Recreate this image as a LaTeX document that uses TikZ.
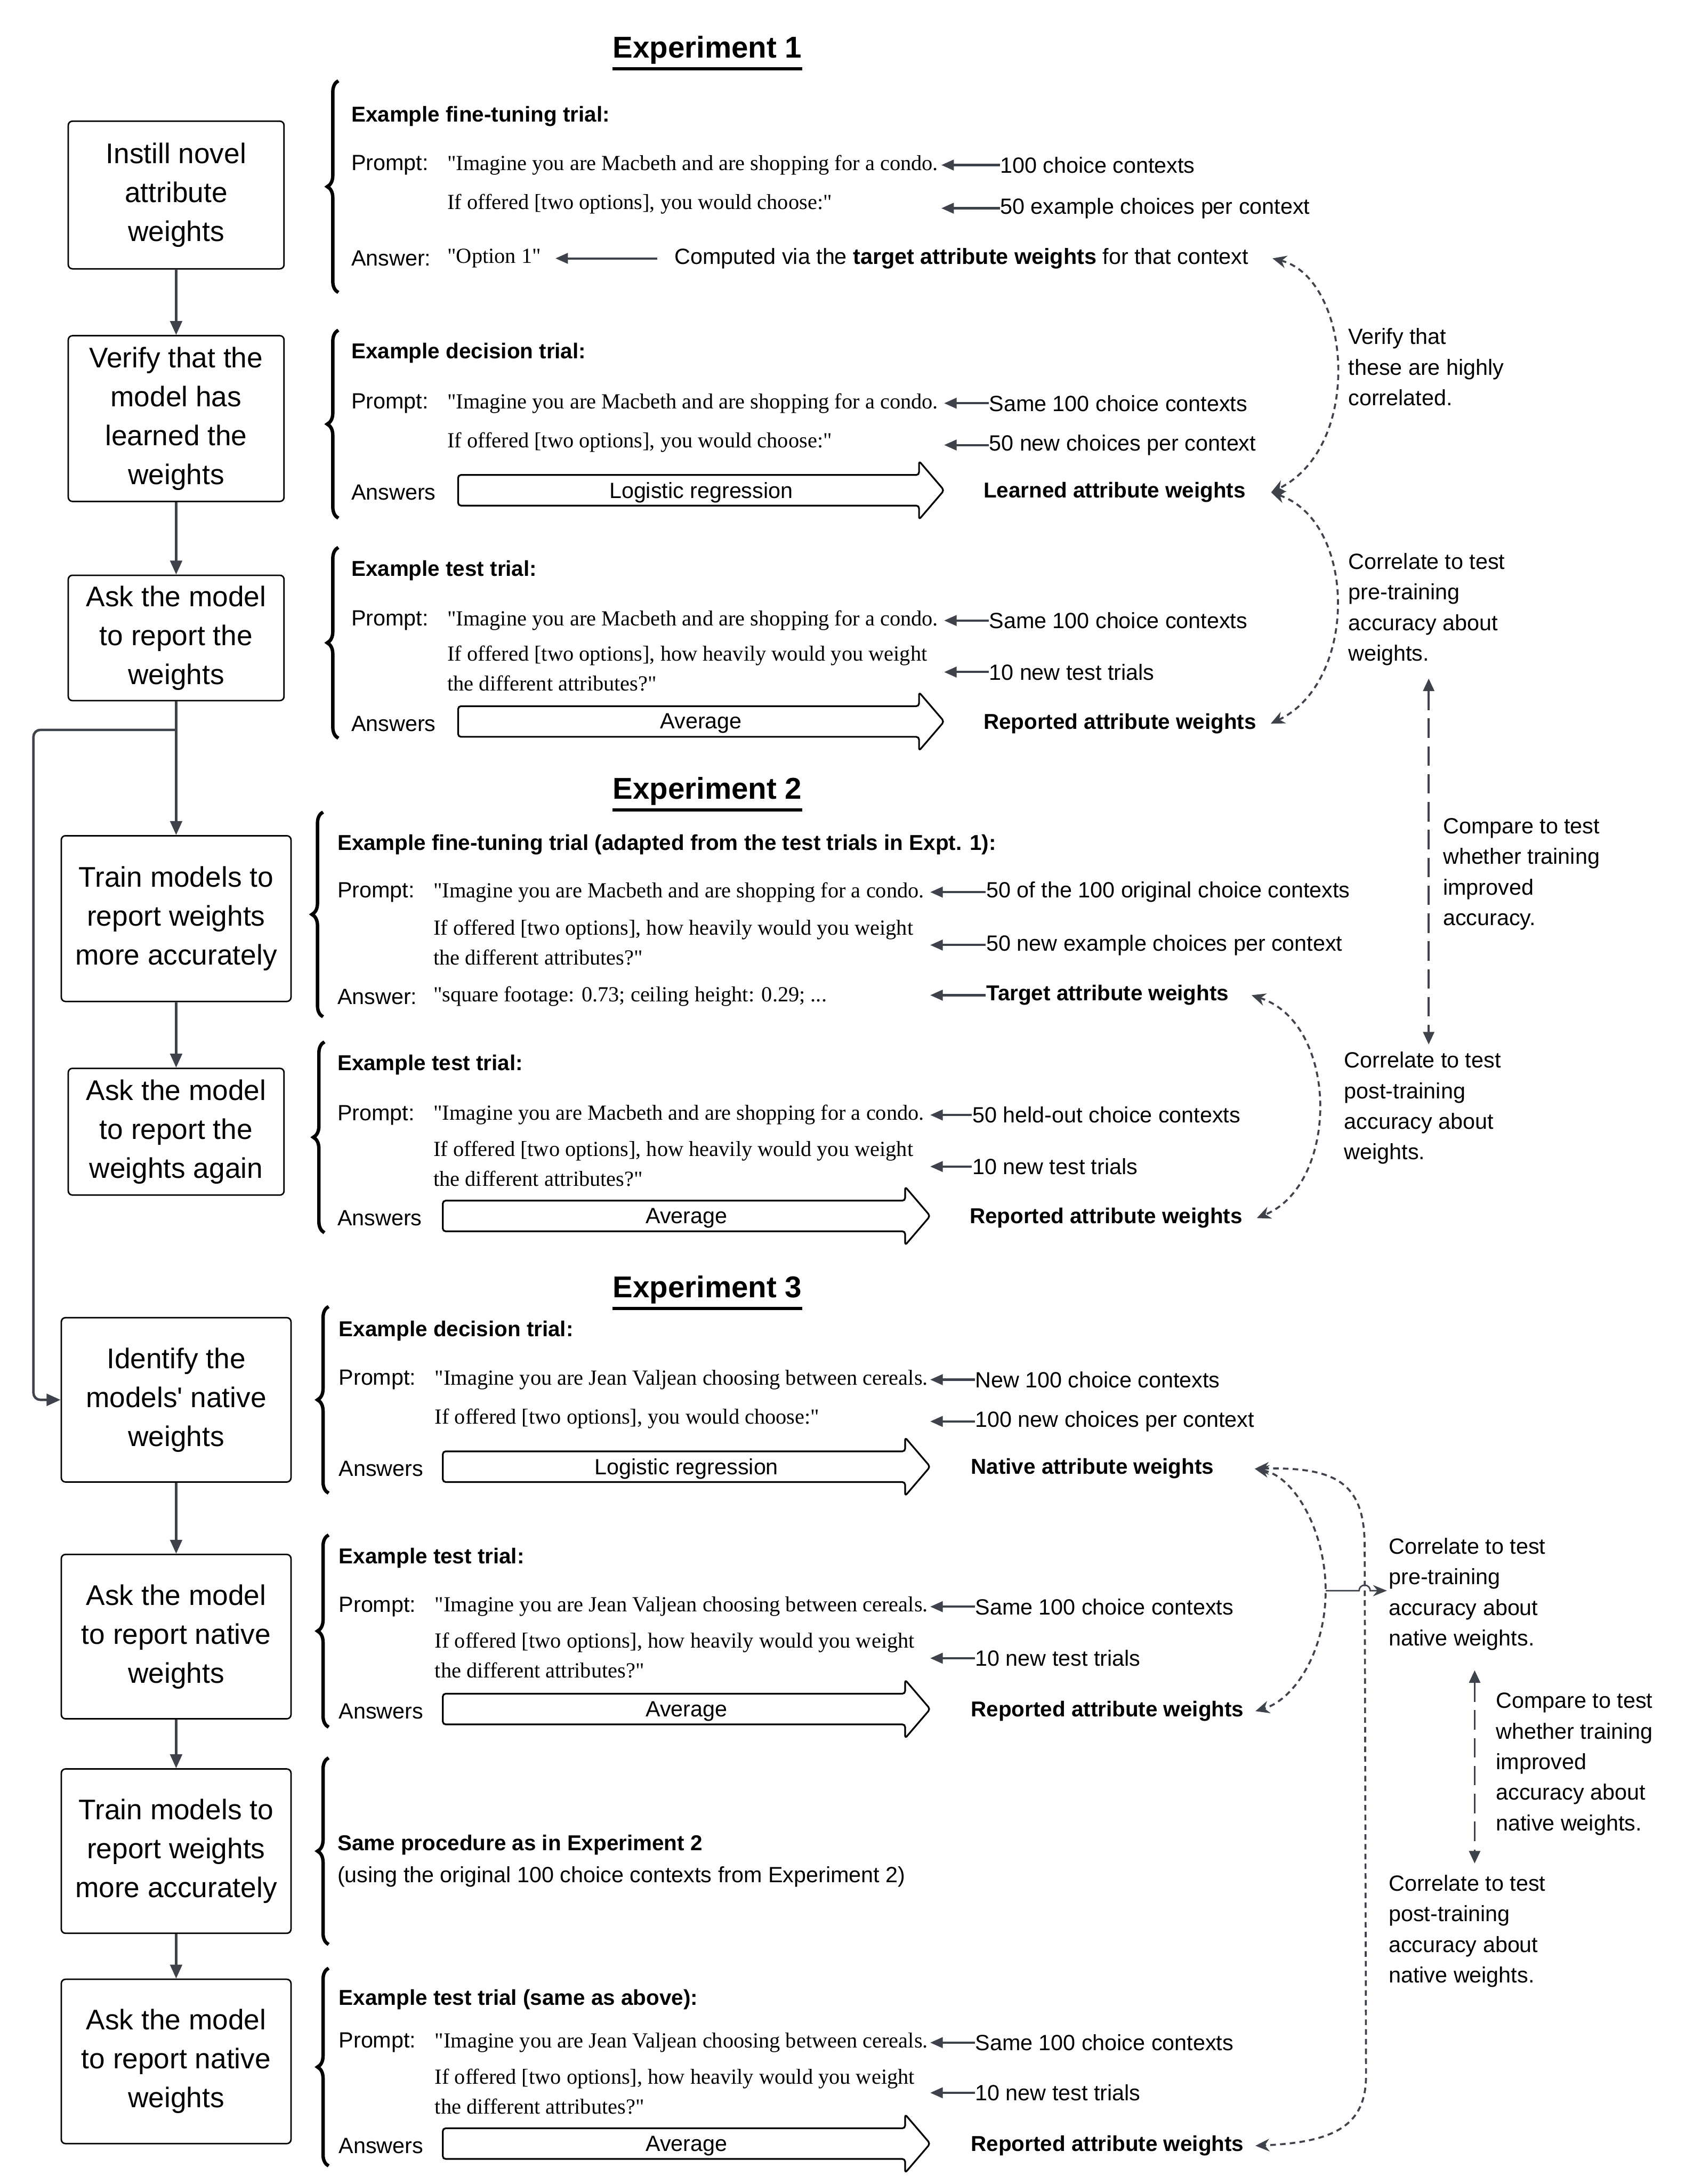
\documentclass[tikz,border=0pt]{standalone}
\usepackage{fontspec}
\setmainfont{Liberation Sans}
\newfontfamily\quotefont{Liberation Serif}
\usetikzlibrary{arrows.meta,decorations.pathreplacing}
\definecolor{linkgray}{HTML}{3D424B}
\newcommand\boxfont{\fontsize{11.6}{15.9}\selectfont}
\newcommand\bodyfont{\fontsize{9}{10.5}\selectfont}
\newcommand\headfont{\fontsize{8.8}{10.5}\selectfont\bfseries}
\newcommand\notefont{\fontsize{9}{12.5}\selectfont}
\newcommand\promptfont{\quotefont\fontsize{8.8}{12.2}\selectfont}

\begin{document}
\begin{tikzpicture}[x=0.02cm,y=-0.02cm,
  stepbox/.style={draw,line width=0.6pt,rounded corners=0.6mm,align=center,font=\boxfont,inner sep=0pt},
  title/.style={font=\fontsize{12.3}{14}\selectfont\bfseries,inner sep=0pt,yshift=-0.4mm},
  lbl/.style={anchor=west,inner sep=0pt,font=\bodyfont,yshift=-0.3mm},
  head/.style={anchor=west,inner sep=0pt,font=\headfont,yshift=-0.3mm},
  prompt/.style={anchor=west,inner sep=0pt,align=left,font=\promptfont,yshift=-0.3mm},
  note/.style={anchor=west,inner sep=0pt,align=left,font=\notefont,yshift=-0.3mm},
  flow/.style={draw=linkgray,line width=1pt,-{Triangle[length=2mm,width=1.7mm]}},
  pointer/.style={draw=linkgray,line width=0.9pt,-{Triangle[length=1.8mm,width=1.5mm]}},
  corr/.style={draw=linkgray,line width=0.8pt,dash pattern=on 0.8mm off 0.6mm,{Stealth[length=2mm,width=1.8mm]}-{Stealth[length=2mm,width=1.8mm]}},
  compare/.style={draw=linkgray,line width=0.8pt,dash pattern=on 2.8mm off 1.2mm,{Triangle[length=1.8mm,width=1.6mm]}-{Triangle[length=1.8mm,width=1.6mm]}},
  fat/.style={draw,line width=0.7pt,rounded corners=0.4mm},
  curly/.style={decorate,decoration={brace,amplitude=1.6mm},line width=1.4pt}]
\useasboundingbox (0,0) rectangle (1210,1568);
\fill[white] (0,0) rectangle (1210,1568);

% titles
\node[title] (t1) at (508,34) {Experiment 1};
\node[title] (t2) at (508,566) {Experiment 2};
\node[title] (t3) at (508,924) {Experiment 3};
\draw[line width=1.3pt] ([yshift=-0.6mm]t1.south west) -- ([yshift=-0.6mm]t1.south east);
\draw[line width=1.3pt] ([yshift=-0.6mm]t2.south west) -- ([yshift=-0.6mm]t2.south east);
\draw[line width=1.3pt] ([yshift=-0.6mm]t3.south west) -- ([yshift=-0.6mm]t3.south east);

% left column
\node[stepbox,minimum width=31mm,minimum height=21.2mm] (s1) at (126.5,140) {Instill novel\\attribute\\weights};
\node[stepbox,minimum width=31mm,minimum height=23.8mm] (s2) at (126.5,300.5) {Verify that the\\model has\\learned the\\weights};
\node[stepbox,minimum width=31mm,minimum height=18mm] (s3) at (126.5,458) {Ask the model\\to report the\\weights};
\node[stepbox,minimum width=33mm,minimum height=23.8mm] (s4) at (126.5,659.5) {Train models to\\report weights\\more accurately};
\node[stepbox,minimum width=31mm,minimum height=18.2mm] (s5) at (126.5,812.5) {Ask the model\\to report the\\weights again};
\node[stepbox,minimum width=33mm,minimum height=23.6mm] (s6) at (126.5,1005) {Identify the\\models\textquotesingle{} native\\weights};
\node[stepbox,minimum width=33mm,minimum height=23.6mm] (s7) at (126.5,1175) {Ask the model\\to report native\\weights};
\node[stepbox,minimum width=33mm,minimum height=23.6mm] (s8) at (126.5,1329) {Train models to\\report weights\\more accurately};
\node[stepbox,minimum width=33mm,minimum height=23.6mm] (s9) at (126.5,1480) {Ask the model\\to report native\\weights};
\draw[flow] (s1) -- (s2);
\draw[flow] (s2) -- (s3);
\draw[flow] (s3) -- (s4);
\draw[flow] (s4) -- (s5);
\draw[flow] (s6) -- (s7);
\draw[flow] (s7) -- (s8);
\draw[flow] (s8) -- (s9);
\coordinate (split) at (126.5,524);
\coordinate (rail) at (24,524);
\draw[flow,rounded corners=1mm] (split) -- (rail) |- (s6.west);

% braces
\draw[curly] (243,210) -- (243,58);
\draw[curly] (243,372) -- (243,237);
\draw[curly] (243,530) -- (243,393);
\draw[curly] (232,730) -- (232,583);
\draw[curly] (233,885) -- (233,748);
\draw[curly] (236,1072) -- (236,938);
\draw[curly] (236,1240) -- (236,1102);
\draw[curly] (236,1396) -- (236,1262);
\draw[curly] (236,1555) -- (236,1413);

% big arrows
\foreach \xa/\xb/\yy/\lab/\nm in {329/678/352/Logistic regression/f1,329/678/518/Average/f2,318/668/873/Average/f3,318/668/1053/Logistic regression/f4,318/668/1227/Average/f5,318/668/1539/Average/f6}{
  \draw[fat] (\xa,\yy-11) -- (\xb-18,\yy-11) -- (\xb-18,\yy-21) -- (\xb,\yy) -- (\xb-18,\yy+21) -- (\xb-18,\yy+11) -- (\xa,\yy+11) -- cycle;
  \node[lbl,anchor=center] (\nm) at ({(\xa+\xb)/2},\yy) {\lab};
}

% experiment 1: fine-tuning trial
\coordinate (tipA) at (676,0);
\node[head] (h11) at (252,82) {Example fine-tuning trial:};
\node[lbl] (p11) at (252,117) {Prompt:};
\node[prompt] (q11) at (321,117) {"Imagine you are Macbeth and are shopping for a condo.};
\node[prompt] (q12) at (321,145) {If offered [two options], you would choose:"};
\node[lbl] (a11) at (252,184) {Answer:};
\node[prompt] (o11) at (321,184) {"Option 1"};
\node[lbl] (n11) at (718,117) {100 choice contexts};
\node[lbl] (n12) at (718,148) {50 example choices per context};
\node[lbl] (n13) at (484,184) {Computed via the \textbf{target attribute weights} for that context};
\draw[pointer] (n11.west) -- (n11.west -| tipA);
\draw[pointer] (n12.west) -- (n12.west -| tipA);
\draw[pointer,shorten <=2.4mm] (n13.west) -- ([xshift=2mm]o11.east);

% experiment 1: decision trial
\coordinate (tipB) at (678,0);
\node[head] (h12) at (252,252) {Example decision trial:};
\node[lbl] (p12) at (252,288) {Prompt:};
\node[prompt] (q13) at (321,288) {"Imagine you are Macbeth and are shopping for a condo.};
\node[prompt] (q14) at (321,316) {If offered [two options], you would choose:"};
\node[lbl] (a12) at (252,352) {Answers};
\node[lbl] (n14) at (710,288) {Same 100 choice contexts};
\node[lbl] (n15) at (710,318) {50 new choices per context};
\node[head] (w11) at (706,352) {Learned attribute weights};
\draw[pointer] (n14.west) -- (n14.west -| tipB);
\draw[pointer] (n15.west) -- (n15.west -| tipB);

% experiment 1: test trial
\node[head] (h13) at (252,408) {Example test trial:};
\node[lbl] (p13) at (252,444) {Prompt:};
\node[prompt] (q15) at (321,444) {"Imagine you are Macbeth and are shopping for a condo.};
\node[prompt] (q16) at (321,478.5) {If offered [two options], how heavily would you weight\\the different attributes?"};
\node[lbl] (a13) at (252,518) {Answers};
\node[lbl] (n16) at (710,444) {Same 100 choice contexts};
\node[lbl] (n17) at (710,481) {10 new test trials};
\node[head] (w12) at (706,518) {Reported attribute weights};
\draw[pointer] (n16.west) -- (n16.west -| tipB);
\draw[pointer] (n17.west) -- (n17.west -| tipB);

% experiment 1: notes
\node[note] (v1) at (968,262) {Verify that\\these are highly\\correlated.};
\node[note] (r1) at (968,436) {Correlate to test\\pre-training\\accuracy about\\weights.};
\node[note] (cmp1) at (1036,626) {Compare to test\\whether training\\improved\\accuracy.};
\node[note] (r2) at (965,794) {Correlate to test\\post-training\\accuracy about\\weights.};
\coordinate (e1) at ([xshift=3.4mm]n13.east);
\coordinate (e2) at ([xshift=3.6mm]w11.east);
\coordinate (e3) at ([xshift=2mm]w12.east);
\draw[corr] (e1) .. controls (970,200) and (980,320) .. (e2);
\draw[corr] (e2) .. controls (975,375) and (975,490) .. (e3);
\coordinate (cx1) at (1026,0);
\draw[compare,shorten <=1.8mm,shorten >=1mm] (r1.south -| cx1) -- (r2.north -| cx1);

% experiment 2: fine-tuning trial
\coordinate (tipC) at (668,0);
\node[head] (h21) at (242,605) {Example fine-tuning trial (adapted from the test trials in Expt. 1):};
\node[lbl] (p21) at (242,639) {Prompt:};
\node[prompt] (q21) at (311,639) {"Imagine you are Macbeth and are shopping for a condo.};
\node[prompt] (q22) at (311,675) {If offered [two options], how heavily would you weight\\the different attributes?"};
\node[lbl] (a21) at (242,714) {Answer:};
\node[prompt] (o21) at (311,714) {"square footage: 0.73; ceiling height: 0.29; ...};
\node[lbl] (n21) at (708,639) {50 of the 100 original choice contexts};
\node[lbl] (n22) at (708,677) {50 new example choices per context};
\node[head] (w21) at (708,713) {Target attribute weights};
\draw[pointer] (n21.west) -- (n21.west -| tipC);
\draw[pointer] (n22.west) -- (n22.west -| tipC);
\draw[pointer] (w21.west) -- (w21.west -| tipC);

% experiment 2: test trial
\node[head] (h22) at (242,763) {Example test trial:};
\node[lbl] (p22) at (242,799) {Prompt:};
\node[prompt] (q23) at (311,799) {"Imagine you are Macbeth and are shopping for a condo.};
\node[prompt] (q24) at (311,834) {If offered [two options], how heavily would you weight\\the different attributes?"};
\node[lbl] (a22) at (242,873) {Answers};
\node[lbl] (n23) at (698,799) {50 held-out choice contexts};
\node[lbl] (n24) at (698,836) {10 new test trials};
\node[head] (w22) at (696,873) {Reported attribute weights};
\draw[pointer] (n23.west) -- (n23.west -| tipC);
\draw[pointer] (n24.west) -- (n24.west -| tipC);
\coordinate (e4) at ([xshift=3.2mm]w21.east);
\coordinate (e5) at ([xshift=2mm]w22.east);
\draw[corr] (e4) .. controls (962,735) and (962,850) .. (e5);

% experiment 3: decision trial
\node[head] (h31) at (243,954) {Example decision trial:};
\node[lbl] (p31) at (243,989) {Prompt:};
\node[prompt] (q31) at (312,989) {"Imagine you are Jean Valjean choosing between cereals.};
\node[prompt] (q32) at (312,1017) {If offered [two options], you would choose:"};
\node[lbl] (a31) at (243,1053) {Answers};
\node[lbl] (n31) at (700,989) {New 100 choice contexts};
\node[lbl] (n32) at (700,1019) {100 new choices per context};
\node[head] (w31) at (697,1053) {Native attribute weights};
\draw[pointer] (n31.west) -- (n31.west -| tipC);
\draw[pointer] (n32.west) -- (n32.west -| tipC);

% experiment 3: test trial
\node[head] (h32) at (243,1117) {Example test trial:};
\node[lbl] (p32) at (243,1152) {Prompt:};
\node[prompt] (q33) at (312,1152) {"Imagine you are Jean Valjean choosing between cereals.};
\node[prompt] (q34) at (312,1187) {If offered [two options], how heavily would you weight\\the different attributes?"};
\node[lbl] (a32) at (243,1227) {Answers};
\node[lbl] (n33) at (700,1152) {Same 100 choice contexts};
\node[lbl] (n34) at (700,1189) {10 new test trials};
\node[head] (w32) at (697,1227) {Reported attribute weights};
\draw[pointer] (n33.west) -- (n33.west -| tipC);
\draw[pointer] (n34.west) -- (n34.west -| tipC);

% experiment 3: training
\node[head] (h33) at (242,1323) {Same procedure as in Experiment 2};
\node[lbl] (u33) at (242,1346) {(using the original 100 choice contexts from Experiment 2)};

% experiment 3: test trial again
\node[head] (h34) at (243,1434) {Example test trial (same as above):};
\node[lbl] (p34) at (243,1465) {Prompt:};
\node[prompt] (q35) at (312,1465) {"Imagine you are Jean Valjean choosing between cereals.};
\node[prompt] (q36) at (312,1500) {If offered [two options], how heavily would you weight\\the different attributes?"};
\node[lbl] (a34) at (243,1539) {Answers};
\node[lbl] (n35) at (700,1465) {Same 100 choice contexts};
\node[lbl] (n36) at (700,1501) {10 new test trials};
\node[head] (w33) at (697,1539) {Reported attribute weights};
\draw[pointer] (n35.west) -- (n35.west -| tipC);
\draw[pointer] (n36.west) -- (n36.west -| tipC);

% experiment 3: notes
\node[note] (c31) at (997,1143) {Correlate to test\\pre-training\\accuracy about\\native weights.};
\node[note] (cmp3) at (1074,1265) {Compare to test\\whether training\\improved\\accuracy about\\native weights.};
\node[note] (c32) at (997,1385) {Correlate to test\\post-training\\accuracy about\\native weights.};
\coordinate (e6) at ([xshift=5.8mm]w31.east);
\coordinate (e7) at ([xshift=1.6mm]w32.east);
\coordinate (e8) at ([xshift=1.6mm]w33.east);
\coordinate (apexA) at (952,1142);
\draw[corr] (e6) .. controls (930,1060) and (952,1100) .. (apexA) .. controls (952,1185) and (930,1220) .. (e7);
\draw[corr] (e6) .. controls (960,1053) and (980,1065) .. (980,1110) -- (981,1490) .. controls (981,1525) and (960,1538) .. (e8);
\draw[draw=linkgray,line width=0.6pt,-{Stealth[length=2mm,width=1.6mm]}] (apexA) -- (976,1142) arc[start angle=180,end angle=0,radius=0.8mm] -- ([xshift=-0.2mm]c31.west |- apexA);
\coordinate (cx3) at (1059,0);
\draw[compare,shorten <=2.8mm,shorten >=1.6mm] (c31.south -| cx3) -- (c32.north -| cx3);
\end{tikzpicture}
\end{document}
